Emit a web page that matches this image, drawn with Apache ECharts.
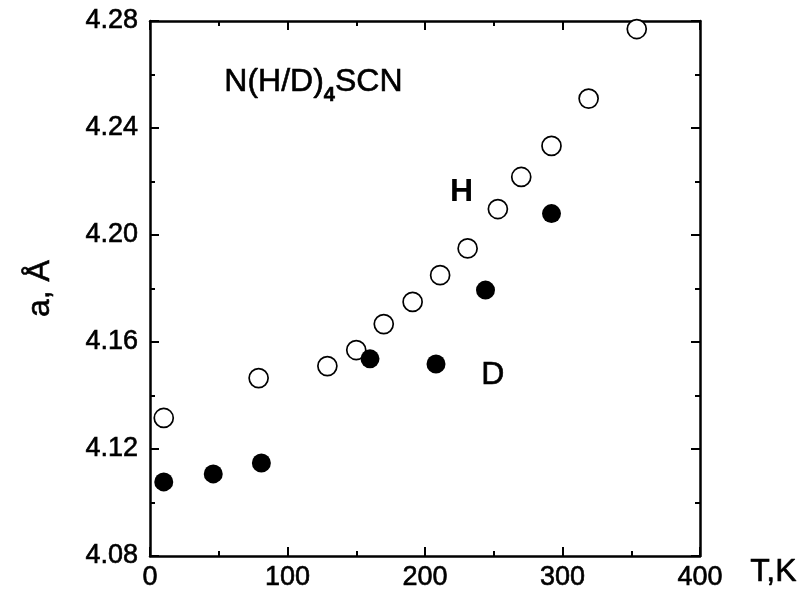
<!DOCTYPE html>
<html>
<head>
<meta charset="utf-8">
<script src="https://cdn.jsdelivr.net/npm/echarts@6/dist/echarts.min.js"></script>
<style>
  html, body { margin: 0; padding: 0; background: #fff; }
  #chart { width: 812px; height: 595px; }
</style>
</head>
<body>
<div id="chart"></div>
<script>
  // lattice parameter a (Å) vs temperature T (K)
  var tempH = [10, 79, 129, 150, 170, 191, 211, 231, 253, 270, 292, 319, 354];
  var aH = [4.1316, 4.1465, 4.151, 4.157, 4.1667, 4.175, 4.185, 4.195, 4.2097, 4.2217, 4.2333, 4.251, 4.277];
  var tempD = [10, 46, 81, 160, 208, 244, 292];
  var aD = [4.1077, 4.1107, 4.1148, 4.1537, 4.1518, 4.1794, 4.208];

  function pairs(xs, ys) {
    return xs.map(function(x, i) { return [x, ys[i]]; });
  }

  var font = 'Liberation Sans, Arial, sans-serif';
  // scanned print looks a bit heavier than regular weight
  var ink = { textBorderColor: '#000', textBorderWidth: 0.6 };

  // each axis gets its own copy of the tick / line settings
  function frame(extra) {
    var ax = {
      type: 'value',
      axisLine: { show: true, onZero: false, lineStyle: { color: '#000', width: 2.5 } },
      axisTick: { show: true, inside: true, length: 9, lineStyle: { color: '#000', width: 2 } },
      minorTick: { show: true, splitNumber: 2, length: 5, lineStyle: { color: '#000', width: 2 } },
      splitLine: { show: false }
    };
    for (var k in extra) ax[k] = extra[k];
    return ax;
  }

  var option = {
    backgroundColor: '#fff',
    animation: false,
    grid: { left: 150, right: 112, top: 21, bottom: 39 },
    xAxis: [
      frame({ min: 0, max: 400, interval: 100, position: 'bottom',
        axisLabel: Object.assign({ color: '#000', fontSize: 27, fontFamily: font, margin: 8 }, ink) }),
      frame({ min: 0, max: 400, interval: 100, position: 'top',
        axisLabel: { show: false } })
    ],
    yAxis: [
      frame({ min: 4.08, max: 4.28, interval: 0.04, position: 'left',
        axisLabel: Object.assign({
          color: '#000', fontSize: 27, fontFamily: font, margin: 12,
          formatter: function(v) { return v.toFixed(2); }
        }, ink),
        name: 'a, Å', nameLocation: 'middle', nameRotate: 90, nameGap: 94,
        nameTextStyle: Object.assign({ color: '#000', fontSize: 32, fontFamily: font }, ink) }),
      frame({ min: 4.08, max: 4.28, interval: 0.04, position: 'right',
        axisLabel: { show: false } })
    ],
    graphic: [
      {
        type: 'text', left: 224, top: 66,
        style: {
          text: 'N(H/D){s|4}SCN',
          font: '32px ' + font, fill: '#000', stroke: '#000', lineWidth: 0.6,
          rich: { s: { fontSize: 20, fontWeight: 'bold', padding: [26, 0, 0, 0], fill: '#000' } }
        }
      },
      { type: 'text', left: 450, top: 176, style: { text: 'H', font: 'bold 32px ' + font, fill: '#000' } },
      { type: 'text', left: 481, top: 359, style: { text: 'D', font: '32px ' + font, fill: '#000', stroke: '#000', lineWidth: 0.6 } },
      { type: 'text', left: 750, top: 556, style: { text: 'T,K', font: '32px ' + font, fill: '#000', stroke: '#000', lineWidth: 0.6 } }
    ],
    series: [
      {
        name: 'H', type: 'scatter', symbol: 'circle', symbolSize: 19,
        itemStyle: { color: '#fff', borderColor: '#000', borderWidth: 1.7, opacity: 1 },
        data: pairs(tempH, aH)
      },
      {
        name: 'D', type: 'scatter', symbol: 'circle', symbolSize: 19,
        itemStyle: { color: '#000', opacity: 1 },
        data: pairs(tempD, aD)
      }
    ]
  };

  echarts.init(document.getElementById('chart')).setOption(option);
</script>
</body>
</html>
